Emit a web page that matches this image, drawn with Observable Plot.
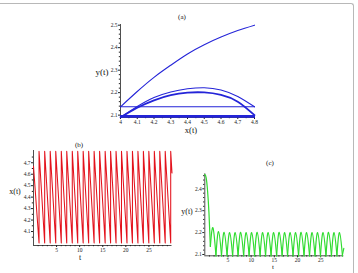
<!DOCTYPE html>
<html><head><meta charset="utf-8">
<script src="https://cdn.jsdelivr.net/npm/d3@7"></script>
<script src="https://cdn.jsdelivr.net/npm/@observablehq/plot@0.6"></script>
<style>
body{margin:0;background:#fff;width:358px;height:273px;overflow:hidden;position:relative;font-family:"Liberation Serif",serif}
.p{position:absolute}
.lbl{position:absolute;transform:translate(-50%,-50%);white-space:nowrap;color:#111;line-height:1}
#frame{position:absolute;left:-4px;top:3px;width:358px;height:290px;border-top:1.5px solid #b8b8b8;border-right:1.5px solid #b8b8b8;border-top-right-radius:3px;box-sizing:border-box}
</style></head>
<body>
<div id="frame"></div>
<div class="lbl" style="left:182px;top:17px;font-size:7px">(a)</div>
<div class="lbl" style="left:102px;top:72px;font-size:9px">y(t)</div>
<div class="lbl" style="left:191px;top:130px;font-size:8.5px">x(t)</div>
<div class="lbl" style="left:79px;top:145px;font-size:7px">(b)</div>
<div class="lbl" style="left:15px;top:192px;font-size:8px">x(t)</div>
<div class="lbl" style="left:80px;top:258px;font-size:8px">t</div>
<div class="lbl" style="left:270px;top:163px;font-size:7px">(c)</div>
<div class="lbl" style="left:187px;top:212px;font-size:8px">y(t)</div>
<div class="lbl" style="left:273px;top:267px;font-size:7px">t</div>
<script>
// ---------- panel (a): phase plane ----------
const aX = [4.0, 4.1, 4.2, 4.3, 4.4, 4.5, 4.6, 4.7, 4.8];
const aInitY = [2.137, 2.205, 2.268, 2.322, 2.372, 2.413, 2.447, 2.476, 2.5];
const aArcOuterY = [2.09, 2.138, 2.178, 2.203, 2.217, 2.222, 2.212, 2.183, 2.137];
const aArcInnerY = [2.09, 2.133, 2.166, 2.189, 2.2, 2.201, 2.19, 2.16, 2.1];
const aJumpY = [2.137, 2.091, 2.0945, 2.098];
const aXTicks = [4, 4.1, 4.2, 4.3, 4.4, 4.5, 4.6, 4.7, 4.8];
const aXMinor = [4.05, 4.15, 4.25, 4.35, 4.45, 4.55, 4.65, 4.75];
const aYTicks = [2.1, 2.2, 2.3, 2.4, 2.5];
const aYMinor = [2.12, 2.14, 2.16, 2.18, 2.22, 2.24, 2.26, 2.28, 2.32, 2.34, 2.36, 2.38, 2.42, 2.44, 2.46, 2.48];

// ---------- panel (b): x(t) ----------
const tStart = 0, tEnd = 30;
const xStart = 4.67, xEnd = 4.61;
const xLow = 4.0, xHigh = 4.8;
const jumpT = [1.2, 2.42, 3.62, 4.82, 6.02, 7.2, 8.4, 9.58, 10.76, 11.95, 13.13, 14.32, 15.52, 16.7, 17.88, 19.06, 20.25, 21.43, 22.62, 23.8, 24.98, 26.17, 27.35, 28.53, 29.72];
const bYTicks = [4.1, 4.2, 4.3, 4.4, 4.5, 4.6, 4.7];
const bYMinor = [4.05, 4.15, 4.25, 4.35, 4.45, 4.55, 4.65, 4.75];
const tTicks = [5, 10, 15, 20, 25];
const tMinor = [1,2,3,4,6,7,8,9,11,12,13,14,16,17,18,19,21,22,23,24,26,27,28,29];

// ---------- panel (c): y(t) ----------
const gInitT = [0, 0.3, 0.6, 0.9, 1.2];
const gInitY = [2.465, 2.45, 2.39, 2.29, 2.137];
const gPeakT = [1.76, 2.97, 4.17, 5.37, 6.56, 7.75, 8.94, 10.12, 11.31, 12.5, 13.68, 14.87, 16.06, 17.25, 18.43, 19.61, 20.79, 21.98, 23.16, 24.35, 25.53, 26.71, 27.9, 29.08];
const gPeakY = [2.222, 2.205, 2.201, 2.2, 2.2, 2.201, 2.2, 2.2, 2.201, 2.2, 2.2, 2.2, 2.201, 2.2, 2.2, 2.2, 2.201, 2.2, 2.2, 2.2, 2.2, 2.201, 2.2, 2.2];
const gStartY = [2.137, 2.1, 2.1, 2.1, 2.1, 2.1, 2.1, 2.1, 2.1, 2.1, 2.1, 2.1, 2.1, 2.1, 2.1, 2.1, 2.1, 2.1, 2.1, 2.1, 2.1, 2.1, 2.1, 2.1];
const gEndY = 2.092;
const gTailY = 2.128;
const cYTicks = [2.1, 2.2, 2.3, 2.4];
const cYMinor = [2.12, 2.14, 2.16, 2.18, 2.22, 2.24, 2.26, 2.28, 2.32, 2.34, 2.36, 2.38, 2.42, 2.44, 2.46];

const BLUE = "#2424d8", RED = "#e3121c", GREEN = "#30dc30", AX = "#222";
const baseStyle = {fontFamily: "Liberation Serif, serif", fontSize: "5.5px", background: "transparent", overflow: "visible", color: AX};

function place(svg, left, top) {
  svg.classList.add("p");
  svg.style.left = left + "px";
  svg.style.top = top + "px";
  document.body.appendChild(svg);
}
function axes(xt, xm, yt, ym, x0, y0) {
  return [
    Plot.axisX({ticks: xt, tickSize: 2, tickPadding: 0.5, tickFormat: d => String(d), label: null}),
    Plot.axisX({ticks: xm, tickSize: 1.2, tickFormat: () => "", label: null}),
    Plot.axisY({ticks: yt, tickSize: 2, tickPadding: 1, tickFormat: d => String(d), label: null}),
    Plot.axisY({ticks: ym, tickSize: 1.2, tickFormat: () => "", label: null}),
    Plot.ruleX([x0], {stroke: AX, strokeWidth: 0.8}),
    Plot.ruleY([y0], {stroke: AX, strokeWidth: 0.8})
  ];
}

// panel (a)
const aInit = aX.map((x, i) => ({x, y: aInitY[i]}));
const aOuter = aX.map((x, i) => ({x, y: aArcOuterY[i]}));
const aInner = aX.map((x, i) => ({x, y: aArcInnerY[i]}));
const aJumps = aJumpY.flatMap((y, k) => [{x: aX[0], y, k}, {x: aX[aX.length - 1], y, k}]);
place(Plot.plot({
  width: 180, height: 125, marginLeft: 30, marginRight: 16, marginTop: 14, marginBottom: 18,
  x: {domain: [4, 4.8]}, y: {domain: [2.0895, 2.503]},
  style: baseStyle,
  marks: [
    ...axes(aXTicks, aXMinor, aYTicks, aYMinor, 4, 2.0895),
    Plot.line(aJumps, {x: "x", y: "y", z: "k", stroke: BLUE, strokeWidth: 1.1}),
    Plot.line(aInit, {x: "x", y: "y", curve: "natural", stroke: BLUE, strokeWidth: 1.1}),
    Plot.line(aOuter, {x: "x", y: "y", curve: "natural", stroke: BLUE, strokeWidth: 1.1}),
    Plot.line(aInner, {x: "x", y: "y", curve: "natural", stroke: BLUE, strokeWidth: 1.8})
  ]
}), 90, 10);

// panel (b)
const redPts = [{t: tStart, x: xStart}];
jumpT.forEach(t => { redPts.push({t, x: xLow}); redPts.push({t, x: xHigh}); });
redPts.push({t: tEnd, x: xEnd});
place(Plot.plot({
  width: 180, height: 138, marginLeft: 33, marginRight: 8.5, marginTop: 15, marginBottom: 28,
  x: {domain: [0, 30]}, y: {domain: [3.978, 4.807]},
  style: baseStyle,
  marks: [
    ...axes(tTicks, tMinor, bYTicks, bYMinor, 0, 3.978),
    Plot.line(redPts, {x: "t", y: "x", stroke: RED, strokeWidth: 1.05})
  ]
}), 0, 135);

// panel (c)
const greenPts = gInitT.map((t, i) => ({t, y: gInitY[i], k: -1}));
gPeakT.forEach((pt, k) => {
  greenPts.push({t: jumpT[k], y: gStartY[k], k});
  greenPts.push({t: pt, y: gPeakY[k], k});
  greenPts.push({t: jumpT[k + 1], y: gEndY, k});
});
greenPts.push({t: jumpT[jumpT.length - 1], y: gStartY[1], k: 99});
greenPts.push({t: tEnd, y: gTailY, k: 99});
place(Plot.plot({
  width: 178, height: 123, marginLeft: 24.3, marginRight: 14.7, marginTop: 23.3, marginBottom: 17.7,
  x: {domain: [0, 30]}, y: {domain: [2.094, 2.4685]},
  style: baseStyle,
  marks: [
    ...axes(tTicks, tMinor, cYTicks, cYMinor, 0, 2.094),
    Plot.line(greenPts, {x: "t", y: "y", z: "k", curve: "natural", stroke: GREEN, strokeWidth: 1.2})
  ]
}), 180, 150);
</script>
</body></html>
